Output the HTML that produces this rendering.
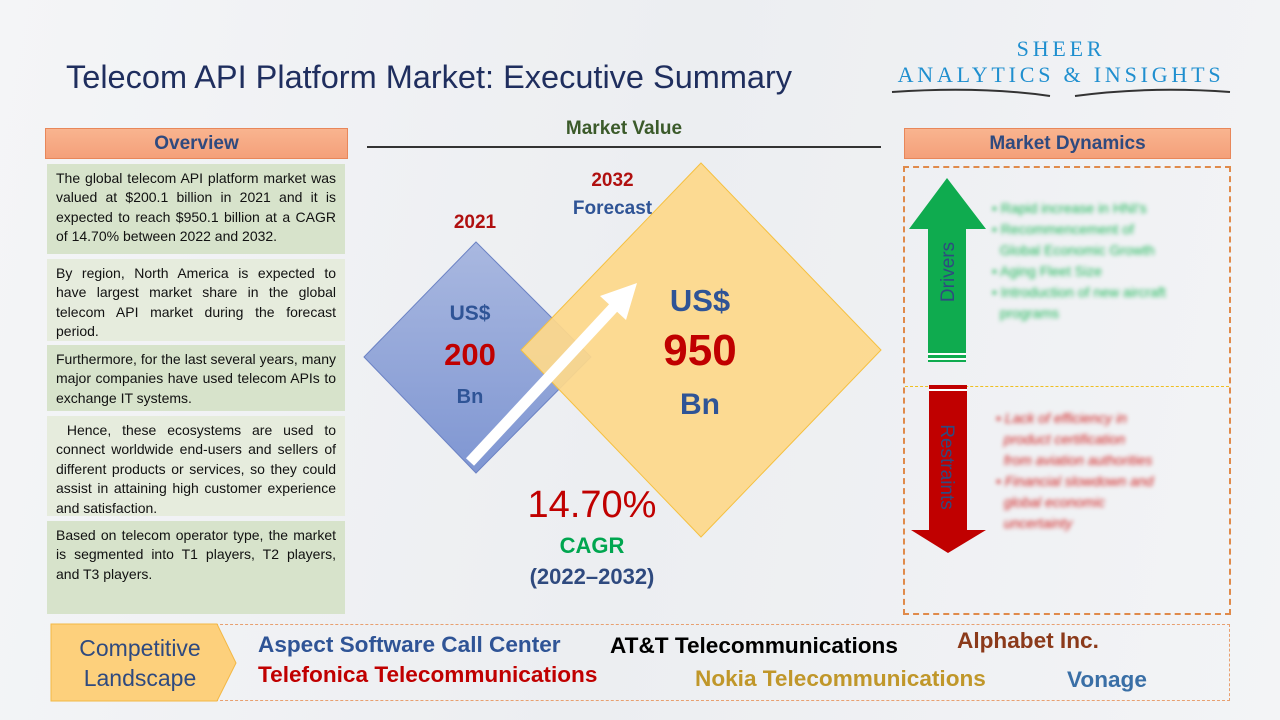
<!DOCTYPE html>
<html><head><meta charset="utf-8"><style>
*{margin:0;padding:0;box-sizing:border-box}
body{width:1280px;height:720px;overflow:hidden;position:relative;font-family:"Liberation Sans",sans-serif;background:linear-gradient(100deg,#f4f5f7 0%,#eceef1 50%,#f3f4f6 100%)}
.a{position:absolute}
.hdr{position:absolute;background:linear-gradient(#f9b48f,#f4a07a);border:1px solid #e8875a;color:#2f4a7f;font-weight:bold;font-size:19px;text-align:center;line-height:29px}
.box{position:absolute;left:47px;width:298px;padding:5px 9px;font-size:14px;line-height:19.4px;text-align:justify;color:#111}
.g{background:#d7e3cb}.l{background:#e6ecdd}
.co{position:absolute;font-weight:bold;font-size:22.6px;white-space:nowrap}
.blur{filter:blur(2.2px);font-size:14px;line-height:21px}
</style></head><body>
<div class="a" style="left:66px;top:59px;font-size:32.5px;color:#1f2e5e">Telecom API Platform Market: Executive Summary</div>
<div class="a" style="left:880px;top:36px;width:362px;text-align:center;font-family:'Liberation Serif',serif;color:#1f8fcf;font-size:22px;letter-spacing:3.8px;line-height:26px">SHEER<br>ANALYTICS &amp; INSIGHTS</div>
<svg class="a" style="left:890px;top:86px" width="345" height="14"><path d="M2 6 Q90 0 160 10" stroke="#333" stroke-width="2" fill="none"/><path d="M185 10 Q260 0 340 6" stroke="#333" stroke-width="2" fill="none"/></svg>

<div class="hdr" style="left:45px;top:128px;width:303px;height:31px">Overview</div>
<div class="box g" style="top:164px;height:90px">The global telecom API platform market was valued at $200.1 billion in 2021 and it is expected to reach $950.1 billion at a CAGR of 14.70% between 2022 and 2032.</div>
<div class="box l" style="top:259px;height:82px">By region, North America is expected to have largest market share in the global telecom API market during the forecast period.</div>
<div class="box g" style="top:345px;height:66px">Furthermore, for the last several years, many major companies have used telecom APIs to exchange IT systems.</div>
<div class="box l" style="top:416px;height:100px">&nbsp;Hence, these ecosystems are used to connect worldwide end-users and sellers of different products or services, so they could assist in attaining high customer experience and satisfaction.</div>
<div class="box g" style="top:521px;height:93px">Based on telecom operator type, the market is segmented into T1 players, T2 players, and T3 players.</div>

<div class="a" style="left:367px;top:118px;width:514px;text-align:center;color:#3b5a2a;font-weight:bold;font-size:19px">Market Value</div>
<div class="a" style="left:367px;top:146px;width:514px;height:2px;background:#333"></div>

<svg class="a" style="left:0;top:0" width="1280" height="720">
<defs><linearGradient id="bg" x1="0" y1="0" x2="0" y2="1"><stop offset="0" stop-color="#a9b8e0"/><stop offset="1" stop-color="#7f96d2"/></linearGradient></defs>
<polygon points="476,242 591,357 476,473 364,357" fill="url(#bg)" stroke="#6b82c4"/>
<polygon points="701,163 881,350 701,537 521,350" fill="#fdd88b" fill-opacity="0.93" stroke="#f5c040"/>
<line x1="470" y1="462" x2="615" y2="306" stroke="#fff" stroke-width="11"/>
<polygon points="637,283 600,296 626,320" fill="#fff"/>
</svg>
<div class="a" style="left:410px;top:212px;width:130px;text-align:center;color:#b01010;font-weight:bold;font-size:19px">2021</div>
<div class="a" style="left:550px;top:170px;width:125px;text-align:center;color:#b01010;font-weight:bold;font-size:19px">2032</div>
<div class="a" style="left:550px;top:198px;width:125px;text-align:center;color:#2f5496;font-weight:bold;font-size:19px">Forecast</div>
<div class="a" style="left:420px;top:302px;width:100px;text-align:center;color:#2f5496;font-weight:bold;font-size:21px">US$</div>
<div class="a" style="left:420px;top:337px;width:100px;text-align:center;color:#c00000;font-weight:bold;font-size:31px">200</div>
<div class="a" style="left:420px;top:386px;width:100px;text-align:center;color:#2f5496;font-weight:bold;font-size:20px">Bn</div>
<div class="a" style="left:630px;top:283px;width:140px;text-align:center;color:#2f5496;font-weight:bold;font-size:31px">US$</div>
<div class="a" style="left:630px;top:326px;width:140px;text-align:center;color:#c00000;font-weight:bold;font-size:44px">950</div>
<div class="a" style="left:630px;top:388px;width:140px;text-align:center;color:#2f5496;font-weight:bold;font-size:30px">Bn</div>
<div class="a" style="left:512px;top:484px;width:160px;text-align:center;color:#c00000;font-size:38px">14.70%</div>
<div class="a" style="left:512px;top:533px;width:160px;text-align:center;color:#00a650;font-weight:bold;font-size:22px">CAGR</div>
<div class="a" style="left:512px;top:564px;width:160px;text-align:center;color:#2f4a7f;font-weight:bold;font-size:22px">(2022–2032)</div>

<div class="hdr" style="left:904px;top:128px;width:327px;height:31px">Market Dynamics</div>
<div class="a" style="left:903px;top:166px;width:328px;height:449px;border:2px dashed #e08a4a"></div>
<div class="a" style="left:905px;top:386px;width:324px;border-top:1px dashed #f0c020"></div>
<svg class="a" style="left:905px;top:175px" width="90" height="385">
<polygon points="42,3 81,54 61,54 61,187 23,187 23,54 4,54" fill="#0fab4f"/>
<rect x="23" y="178" width="38" height="2" fill="#fff"/><rect x="23" y="183" width="38" height="2" fill="#fff"/>
<polygon points="24,210 62,210 62,355 81,355 43,378 6,355 24,355" fill="#c00000"/>
<rect x="24" y="214" width="38" height="2" fill="#fff"/>
<text transform="translate(49,97) rotate(-90)" text-anchor="middle" font-family="Liberation Sans" font-size="19" fill="#2f4a7f">Drivers</text>
<text transform="translate(36,292) rotate(90)" text-anchor="middle" font-family="Liberation Sans" font-size="19" fill="#2f4a7f">Restraints</text>
</svg>
<div class="a blur" style="left:992px;top:198px;width:230px;color:#1fb85a">• Rapid increase in HNI's<br>• Recommencement of<br>&nbsp;&nbsp;Global Economic Growth<br>• Aging Fleet Size<br>• Introduction of new aircraft<br>&nbsp;&nbsp;programs</div>
<div class="a blur" style="left:996px;top:408px;width:230px;color:#d02020;font-style:italic">• Lack of efficiency in<br>&nbsp;&nbsp;product certification<br>&nbsp;&nbsp;from aviation authorities<br>• Financial slowdown and<br>&nbsp;&nbsp;global economic<br>&nbsp;&nbsp;uncertainty</div>

<div class="a" style="left:200px;top:624px;width:1030px;height:77px;border:1px dashed #e8a070"></div>
<svg class="a" style="left:50px;top:623px" width="190" height="80"><polygon points="1,1 167,1 186,40 167,78 1,78" fill="#fdd07c" stroke="#f3b844"/></svg>
<div class="a" style="left:60px;top:633px;width:160px;text-align:center;color:#2f4a7f;font-size:23px;line-height:30px">Competitive<br>Landscape</div>
<div class="co" style="left:258px;top:632px;color:#2f5496">Aspect Software Call Center</div>
<div class="co" style="left:258px;top:662px;color:#c00000">Telefonica Telecommunications</div>
<div class="co" style="left:610px;top:633px;color:#000">AT&amp;T Telecommunications</div>
<div class="co" style="left:957px;top:628px;color:#8b3a1a">Alphabet Inc.</div>
<div class="co" style="left:695px;top:666px;color:#c0972a">Nokia Telecommunications</div>
<div class="co" style="left:1067px;top:667px;color:#3a6fa6">Vonage</div>
</body></html>
